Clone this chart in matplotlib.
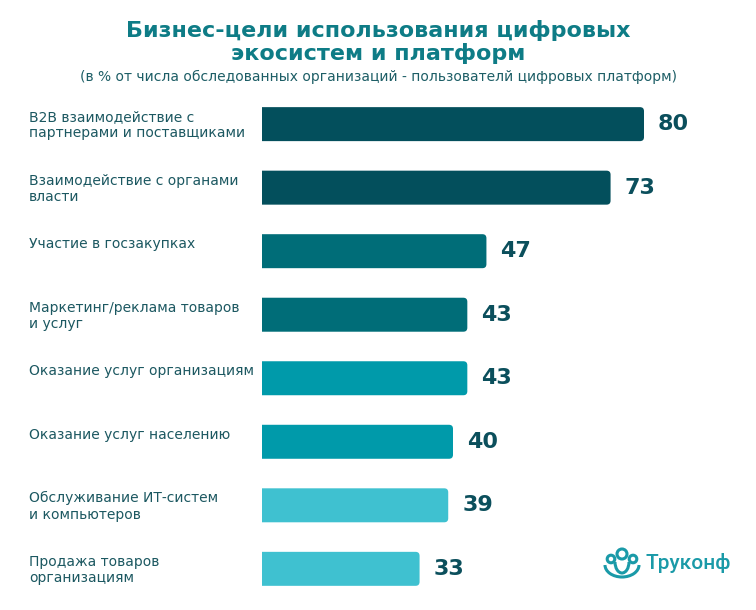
import matplotlib.pyplot as plt
import matplotlib.transforms as mtransforms
from matplotlib.patches import FancyBboxPatch, Circle, Arc

# Данные
categories = [
    "B2B взаимодействие с\nпартнерами и поставщиками",
    "Взаимодействие с органами\nвласти",
    "Участие в госзакупках",
    "Маркетинг/реклама товаров\nи услуг",
    "Оказание услуг организациям",
    "Оказание услуг населению",
    "Обслуживание ИТ-систем\nи компьютеров",
    "Продажа товаров\nорганизациям",
]
values = [80, 73, 47, 43, 43, 40, 39, 33]
bar_colors = ["#034f5c", "#034f5c", "#006d78", "#006d78",
              "#009aaa", "#009aaa", "#3fc1d0", "#3fc1d0"]

title = "Бизнес-цели использования цифровых\nэкосистем и платформ"
subtitle = "(в % от числа обследованных организаций - пользователй цифровых платформ)"
logo = "Труконф"

fig = plt.figure(figsize=(7.56, 6.10), dpi=100)
ax = fig.add_axes([262 / 756, 0.005, 438 / 756, 0.854])

bh = 0.535
xmax = 80 * 438 / 382
ax.set_xlim(0, xmax)
ax.set_ylim(len(values) - 0.4, -0.6)
ax.axis("off")

# бары со скруглённым правым краем (левый край обрезается осями)
xu = xmax / 438            # единиц x на пиксель
yu = (len(values) + 0.2) / (0.854 * 610)  # единиц y на пиксель
for i, v in enumerate(values):
    p = FancyBboxPatch((-8 * xu, i - bh / 2), v + 8 * xu, bh,
                       boxstyle="round,pad=0,rounding_size=%f" % (4 * xu),
                       mutation_aspect=yu / xu, fc=bar_colors[i], ec="none")
    ax.add_patch(p)

# Подписи значений
for i, v in enumerate(values):
    ax.annotate(str(v), xy=(v, i), xytext=(10, 0), textcoords="offset points",
                va="center", ha="left", fontsize=16, fontweight="bold",
                color="#0b4f5c")

# Подписи категорий слева
trans = mtransforms.blended_transform_factory(fig.transFigure, ax.transData)
for i, label in enumerate(categories):
    ax.text(29 / 756, i - 0.22, label, transform=trans, ha="left", va="top",
            fontsize=10, color="#1c5861", linespacing=1.2)

# Заголовок
fig.text(0.5, 0.968, title, ha="center", va="top", fontsize=16,
         fontweight="bold", color="#0e7c86", linespacing=1.15)
fig.text(0.5, 0.886, subtitle, ha="center", va="top", fontsize=10,
         color="#1d5e66")

# Логотип
lc = "#1a9aa8"
fig.text(731 / 756, 1 - 563 / 610, logo, ha="right", va="center",
         fontsize=15, fontweight="medium", color=lc, family="Roboto")
ic = fig.add_axes([602 / 756, 1 - 580 / 610, 40 / 756, 34 / 610])
ic.set_xlim(0, 40)
ic.set_ylim(0, 34)
ic.axis("off")
ic.add_patch(Arc((20, 15), 34, 24, theta1=180, theta2=360, ec=lc, lw=2.2))
ic.add_patch(Arc((20, 18), 14, 22, theta1=180, theta2=360, ec=lc, lw=2.2))
for cx, cy, r in [(9, 21, 3.8), (20, 26, 5), (31, 21, 3.8)]:
    ic.add_patch(Circle((cx, cy), r, fill=False, ec=lc, lw=2.2))

fig.savefig("out.png", dpi=100)
